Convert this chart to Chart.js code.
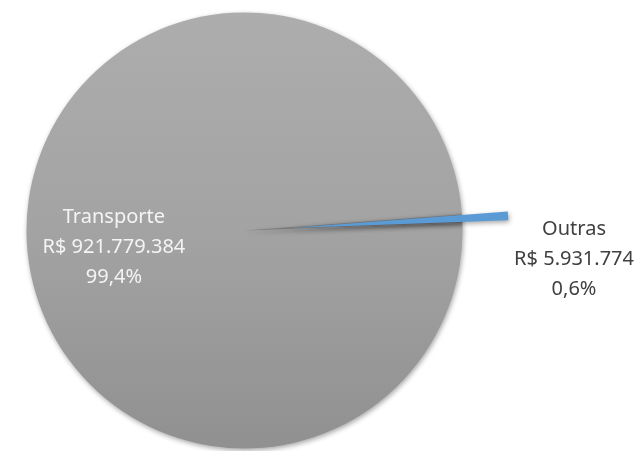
<!DOCTYPE html>
<html>
<head>
<meta charset="utf-8">
<script src="https://cdn.jsdelivr.net/npm/chart.js@4.4.1/dist/chart.umd.min.js"></script>
<style>
  html, body { margin: 0; padding: 0; background: #fff; }
  #wrap { width: 643px; height: 451px; position: relative; }
</style>
</head>
<body>
<div id="wrap"><canvas id="myChart"></canvas></div>
<script>
const categories = ['Transporte', 'Outras'];
const values = [921779384, 5931774];
const sliceColors = ['#a3a3a3', '#5b9bd5'];
const explode = [0, 46];   // px the slice is pulled out

// R$ 921.779.384 style
const fmtMoney = v => 'R$ ' + String(v).replace(/\B(?=(\d{3})+(?!\d))/g, '.');
const total = values.reduce((a, b) => a + b, 0);
const fmtPct = v => (v / total * 100).toFixed(1).replace('.', ',') + '%';

// where each label block sits, relative to the slice's mid angle
const labelPlace = [
    { dist: 0.6, dx: 0, dy: 10, color: '#f4f4f4' },
    { dist: 1.514, dx: 0, dy: 47, color: '#404040' }
];

const setShadow = ctx => {
    ctx.shadowColor = 'rgba(0,0,0,0.35)';
    ctx.shadowBlur = 5;
    ctx.shadowOffsetX = 1;
    ctx.shadowOffsetY = 2;
};

const shadowPlugin = {
    id: 'pieShadow',
    beforeDatasetsDraw(chart) {
        chart.ctx.save();
        setShadow(chart.ctx);
    },
    afterDatasetsDraw(chart) {
        chart.ctx.restore();
    }
};

// redraw exploded slices pulled out along their mid angle
const explodePlugin = {
    id: 'explode',
    afterDatasetsDraw(chart) {
        const ctx = chart.ctx;
        const meta = chart.getDatasetMeta(0);
        meta.data.forEach((arc, i) => {
            if (!explode[i]) return;
            const mid = (arc.startAngle + arc.endAngle) / 2;
            ctx.save();
            setShadow(ctx);
            ctx.translate(Math.cos(mid) * explode[i], Math.sin(mid) * explode[i]);
            const saved = arc.options;
            arc.options = Object.assign({}, saved, { backgroundColor: sliceColors[i], borderWidth: 0 });
            arc.draw(ctx, chart.chartArea);
            arc.options = saved;
            ctx.restore();
        });
    }
};

const labelPlugin = {
    id: 'sliceLabels',
    afterDraw(chart) {
        const ctx = chart.ctx;
        const meta = chart.getDatasetMeta(0);
        ctx.save();
        ctx.font = '20px "Noto Sans"';
        ctx.textAlign = 'center';
        ctx.textBaseline = 'middle';
        meta.data.forEach((arc, i) => {
            const p = arc.getProps(['x', 'y', 'startAngle', 'endAngle', 'outerRadius'], true);
            const mid = (p.startAngle + p.endAngle) / 2;
            const o = labelPlace[i];
            const cx = p.x + Math.cos(mid) * p.outerRadius * o.dist + o.dx;
            const cy = p.y + Math.sin(mid) * p.outerRadius * o.dist + o.dy;
            const lines = [categories[i], fmtMoney(values[i]), fmtPct(values[i])];
            ctx.fillStyle = o.color;
            lines.forEach((t, k) => ctx.fillText(t, cx, cy + (k - 1) * 30));
        });
        ctx.restore();
    }
};

const ctx = document.getElementById('myChart').getContext('2d');
new Chart(ctx, {
    type: 'pie',
    data: {
        labels: categories,
        datasets: [{
            data: values,
            backgroundColor: (c) => {
                const area = c.chart.chartArea;
                if (c.dataIndex === 1) return '#7a7a7a';  // gap left by the pulled-out slice
                if (!area) return sliceColors[0];
                const g = c.chart.ctx.createLinearGradient(0, area.top, 0, area.bottom);
                g.addColorStop(0, '#adadad');
                g.addColorStop(0.5, '#a3a3a3');
                g.addColorStop(1, '#909090');
                return g;
            },
            borderWidth: 0,
            radius: 218,
            rotation: 88
        }]
    },
    options: {
        responsive: true,
        maintainAspectRatio: false,
        animation: false,
        layout: { padding: { left: 0, right: 154, top: 10, bottom: 0 } },
        plugins: {
            legend: { display: false },
            tooltip: { enabled: false }
        }
    },
    plugins: [shadowPlugin, explodePlugin, labelPlugin]
});
</script>
</body>
</html>
